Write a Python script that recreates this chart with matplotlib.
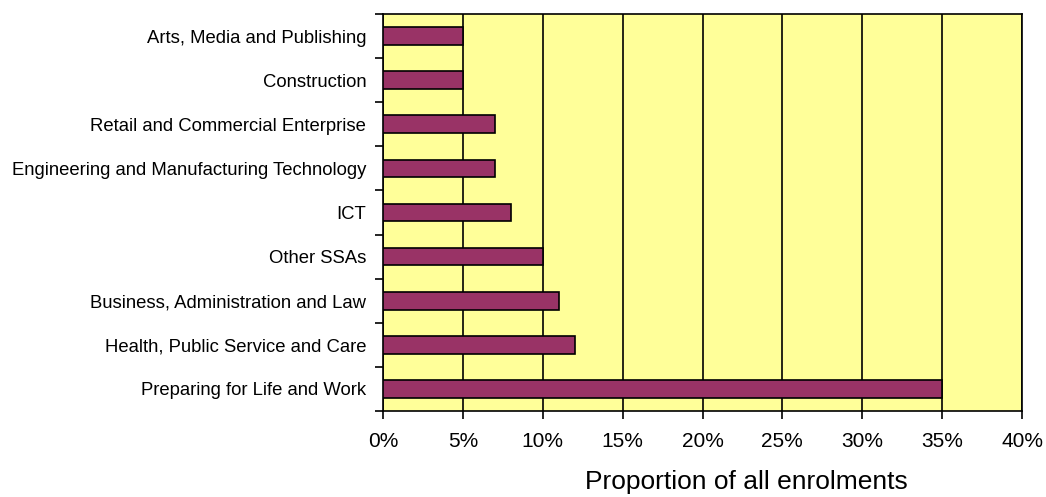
import numpy as np
import matplotlib
matplotlib.use("Agg")
import matplotlib.pyplot as plt
from matplotlib.ticker import FixedLocator, NullFormatter, PercentFormatter

plt.rcParams['font.family'] = ['Liberation Sans', 'DejaVu Sans']

# enrolment share by sector subject area (top of chart first)
categories = [
    "Arts, Media and Publishing",
    "Construction",
    "Retail and Commercial Enterprise",
    "Engineering and Manufacturing Technology",
    "ICT",
    "Other SSAs",
    "Business, Administration and Law",
    "Health, Public Service and Care",
    "Preparing for Life and Work",
]
shares = [5, 5, 7, 7, 8, 10, 11, 12, 35]

fig = plt.figure(figsize=(10.46, 4.97), dpi=100)
ax = fig.add_axes([383 / 1046, 1 - 411 / 497, (1022 - 383) / 1046, (411 - 14) / 497])
ax.set_facecolor("#FFFF99")

y = np.arange(len(categories))[::-1]
ax.barh(y, shares, height=0.4, color="#993366", edgecolor="black", linewidth=1.2, zorder=3)

ax.set_xlim(0, 40)
ax.set_ylim(-0.5, len(categories) - 0.5)
ax.set_xticks(np.arange(0, 41, 5))
ax.xaxis.set_major_formatter(PercentFormatter(decimals=0))
ax.grid(axis="x", color="black", linewidth=1.2, zorder=1)

ax.set_yticks(y)
ax.set_yticklabels(categories, fontsize=13.3)
ax.tick_params(axis="y", which="major", length=0, pad=12)
ax.yaxis.set_minor_locator(FixedLocator(np.arange(-0.5, len(categories), 1.0)))
ax.yaxis.set_minor_formatter(NullFormatter())
ax.tick_params(axis="y", which="minor", length=6, width=1.2)
ax.tick_params(axis="x", length=6, width=1.2, labelsize=15, pad=9)

for s in ax.spines.values():
    s.set_linewidth(1.2)

ax.set_xlabel("Proportion of all enrolments", fontsize=19, va="baseline")
ax.xaxis.set_label_coords(0.568, -78 / 397)

fig.savefig("out.png", dpi=100)
